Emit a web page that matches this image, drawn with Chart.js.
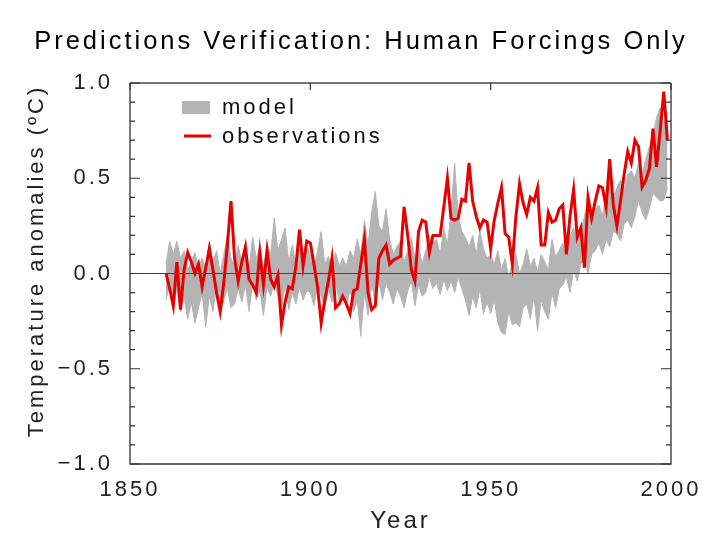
<!DOCTYPE html>
<html>
<head>
<meta charset="utf-8">
<script src="https://cdn.jsdelivr.net/npm/chart.js@4.4.1/dist/chart.umd.min.js"></script>
<style>
  html, body { margin: 0; padding: 0; background: #fff; }
  canvas { display: block; }
</style>
</head>
<body>
<canvas id="tempChart" width="720" height="540"></canvas>
<script>
// observed global temperature anomalies (degC), one value a year from 1860
const firstYear = 1860;
const observations = [
  0.00, -0.08, -0.17, 0.06, -0.19, 0.02, 0.11, 0.06, 0.00, 0.05,
  -0.07, 0.03, 0.13, 0.02, -0.10, -0.20, -0.05, 0.15, 0.38, 0.08,
  -0.04, 0.06, 0.14, -0.03, -0.06, -0.10, 0.11, -0.06, 0.12, -0.03,
  -0.07, -0.01, -0.27, -0.15, -0.07, -0.08, 0.04, 0.23, 0.04, 0.17,
  0.16, 0.05, -0.07, -0.26, -0.14, -0.04, 0.08, -0.18, -0.16, -0.12,
  -0.16, -0.21, -0.09, -0.08, 0.05, 0.18, -0.10, -0.19, -0.17, 0.08,
  0.12, 0.15, 0.05, 0.07, 0.08, 0.09, 0.35, 0.20, 0.02, -0.04,
  0.22, 0.28, 0.27, 0.11, 0.20, 0.20, 0.20, 0.35, 0.50, 0.29,
  0.28, 0.29, 0.39, 0.38, 0.58, 0.38, 0.30, 0.24, 0.28, 0.27,
  0.13, 0.28, 0.37, 0.45, 0.21, 0.19, 0.05, 0.30, 0.47, 0.37,
  0.31, 0.40, 0.38, 0.45, 0.15, 0.15, 0.32, 0.27, 0.28, 0.34,
  0.36, 0.10, 0.30, 0.44, 0.19, 0.24, 0.03, 0.40, 0.29, 0.38,
  0.46, 0.45, 0.35, 0.60, 0.36, 0.25, 0.38, 0.52, 0.64, 0.58,
  0.70, 0.665, 0.455, 0.49, 0.55, 0.76, 0.56, 0.75, 0.955, 0.70
];

// model ensemble range (human forcings only), lower and upper edge
const modelLow = [
  -0.14, -0.05, -0.18, -0.08, -0.20, -0.12, -0.24, -0.15, -0.26, -0.18,
  -0.10, -0.28, -0.12, -0.20, -0.06, -0.22, -0.14, -0.08, -0.18, -0.16,
  -0.08, -0.15, -0.06, -0.20, -0.05, -0.14, -0.09, -0.22, -0.07, -0.12,
  -0.04, -0.12, -0.19, -0.06, -0.19, -0.10, -0.16, -0.07, -0.14, -0.09,
  -0.10, -0.17, -0.06, -0.12, -0.18, -0.08, -0.15, -0.05, -0.14, -0.11,
  -0.18, -0.08, -0.20, -0.14, -0.33, -0.10, -0.22, -0.06, -0.15, -0.04,
  -0.14, -0.05, -0.10, -0.16, -0.08, -0.12, -0.18, -0.09, -0.04, -0.17,
  -0.06, -0.12, -0.10, -0.02, -0.08, -0.05, -0.11, -0.03, -0.09, -0.04,
  -0.10, -0.02, -0.08, -0.14, -0.22, -0.12, -0.18, -0.08, -0.21, -0.15,
  -0.21, -0.14, -0.26, -0.31, -0.32, -0.20, -0.27, -0.26, -0.28, -0.18,
  -0.16, -0.24, -0.12, -0.30, -0.14, -0.20, -0.24, -0.10, -0.18, -0.08,
  -0.06, -0.02, -0.10, 0.02, -0.04, 0.05, 0.07, 0.00, 0.10, 0.12,
  0.16, 0.10, 0.18, 0.14, 0.22, 0.21, 0.17, 0.26, 0.28, 0.24,
  0.30, 0.385, 0.32, 0.28, 0.34, 0.42, 0.40, 0.38, 0.385, 0.45
];
const modelHigh = [
  0.05, 0.17, 0.10, 0.17, 0.08, 0.12, 0.02, 0.06, 0.11, 0.03,
  0.08, 0.03, 0.17, 0.06, 0.12, 0.00, 0.10, 0.20, 0.08, 0.04,
  0.15, 0.05, 0.12, 0.03, 0.19, 0.08, 0.14, 0.02, 0.16, 0.10,
  0.29, 0.12, 0.18, 0.24, 0.06, 0.15, 0.04, 0.13, 0.08, 0.14,
  0.10, 0.02, 0.12, 0.22, 0.05, 0.09, 0.02, 0.11, 0.04, 0.08,
  0.04, 0.12, 0.08, 0.18, 0.10, 0.28, 0.15, 0.32, 0.43, 0.25,
  0.22, 0.34, 0.18, 0.10, 0.14, 0.17, 0.06, 0.12, 0.19, 0.08,
  0.14, 0.05, 0.12, 0.20, 0.16, 0.18, 0.10, 0.24, 0.15, 0.32,
  0.58, 0.30, 0.22, 0.19, 0.14, 0.20, 0.10, 0.23, 0.13, 0.08,
  0.10, 0.05, 0.12, 0.02, 0.08, -0.02, 0.06, 0.10, 0.00, 0.05,
  0.13, 0.04, 0.08, 0.01, 0.10, 0.06, 0.02, 0.18, 0.09, 0.12,
  0.16, 0.08, 0.20, 0.24, 0.15, 0.22, 0.30, 0.39, 0.28, 0.34,
  0.36, 0.30, 0.42, 0.50, 0.40, 0.45, 0.49, 0.44, 0.52, 0.54,
  0.50, 0.58, 0.52, 0.60, 0.665, 0.72, 0.82, 0.87, 0.78, 0.85
];

const xTicks = [1850, 1900, 1950, 2000];
const yTicks = [-1.0, -0.5, 0.0, 0.5, 1.0];

const FONT = "'Liberation Sans', Arial, Helvetica, sans-serif";
const GRAY = '#b4b4b4';
const RED = '#e60000';

const toPoints = arr => arr.map((v, i) => ({x: firstYear + i, y: v}));

// title, y title, frame, inward ticks, zero line and in-plot legend
const decorations = {
  id: 'decorations',
  beforeDraw(chart) {
    chart.ctx.letterSpacing = '3px';
  },
  beforeDatasetDraw(chart, args) {
    if (args.index !== 2) return;
    const {ctx, chartArea: a, scales: {y}} = chart;
    const y0 = y.getPixelForValue(0);
    ctx.save();
    ctx.strokeStyle = '#444';
    ctx.lineWidth = 1.2;
    ctx.beginPath();
    ctx.moveTo(a.left, y0);
    ctx.lineTo(a.right, y0);
    ctx.stroke();
    ctx.restore();
  },
  afterDraw(chart) {
    const {ctx, chartArea: a, scales: {x, y}} = chart;
    ctx.save();
    ctx.letterSpacing = '0px';
    // frame
    ctx.strokeStyle = '#777';
    ctx.lineWidth = 2;
    ctx.beginPath();
    ctx.moveTo(a.left, a.top);
    ctx.lineTo(a.right, a.top);
    ctx.stroke();
    ctx.strokeStyle = '#333';
    ctx.lineWidth = 1.3;
    ctx.beginPath();
    ctx.moveTo(a.left, a.top);
    ctx.lineTo(a.left, a.bottom);
    ctx.lineTo(a.right, a.bottom);
    ctx.lineTo(a.right, a.top);
    ctx.stroke();
    // inward ticks on left and right, every 0.1
    ctx.lineWidth = 1.2;
    ctx.beginPath();
    for (let k = -10; k <= 10; k++) {
      const py = y.getPixelForValue(k / 10);
      const len = k % 5 === 0 ? 10 : 5;
      ctx.moveTo(a.left, py);
      ctx.lineTo(a.left + len, py);
      ctx.moveTo(a.right, py);
      ctx.lineTo(a.right - len, py);
    }
    xTicks.forEach(v => {
      const px = x.getPixelForValue(v);
      ctx.moveTo(px, a.top);
      ctx.lineTo(px, a.top + 7);
    });
    ctx.stroke();
    ctx.restore();

    ctx.save();
    ctx.letterSpacing = '3px';
    // title
    ctx.fillStyle = '#000';
    ctx.font = '25.5px ' + FONT;
    ctx.textAlign = 'center';
    ctx.textBaseline = 'middle';
    ctx.fillText('Predictions Verification: Human Forcings Only', 361, 42);
    // y axis title
    ctx.save();
    ctx.translate(37, 261);
    ctx.rotate(-Math.PI / 2);
    ctx.fillStyle = '#222';
    ctx.font = '22px ' + FONT;
    ctx.fillText('Temperature anomalies (\u00baC)', 0, 0);
    ctx.restore();
    // legend
    ctx.fillStyle = GRAY;
    ctx.fillRect(182, 101, 28, 13);
    ctx.strokeStyle = RED;
    ctx.lineWidth = 3;
    ctx.beginPath();
    ctx.moveTo(184, 136);
    ctx.lineTo(211, 136);
    ctx.stroke();
    ctx.fillStyle = '#111';
    ctx.font = '22px ' + FONT;
    ctx.textAlign = 'left';
    ctx.textBaseline = 'alphabetic';
    ctx.fillText('model', 222, 114);
    ctx.fillText('observations', 222, 143);
    ctx.restore();
  }
};

const ctx = document.getElementById('tempChart').getContext('2d');
new Chart(ctx, {
  type: 'line',
  data: {
    datasets: [
      {
        label: 'model low',
        data: toPoints(modelLow),
        borderColor: GRAY,
        borderWidth: 1,
        pointRadius: 0,
        fill: false,
        order: 3
      },
      {
        label: 'model',
        data: toPoints(modelHigh),
        borderColor: GRAY,
        borderWidth: 1,
        backgroundColor: GRAY,
        pointRadius: 0,
        fill: '-1',
        order: 2
      },
      {
        label: 'observations',
        data: toPoints(observations),
        borderColor: RED,
        borderWidth: 3,
        pointRadius: 0,
        tension: 0,
        fill: false,
        order: 1
      }
    ]
  },
  options: {
    responsive: false,
    animation: false,
    devicePixelRatio: 1,
    layout: { padding: { left: 0, right: 49, top: 83, bottom: 0 } },
    plugins: {
      legend: { display: false },
      tooltip: { enabled: false },
      title: { display: false }
    },
    scales: {
      x: {
        type: 'linear',
        min: 1850,
        max: 2000,
        afterBuildTicks: s => { s.ticks = xTicks.map(v => ({value: v})); },
        afterFit: s => { s.height = 76; },
        grid: { display: false, drawTicks: false },
        border: { display: false },
        ticks: {
          color: '#222',
          padding: 13,
          maxRotation: 0,
          font: { family: FONT, size: 22 },
          callback: v => String(v)
        },
        title: {
          display: true,
          text: 'Year',
          color: '#222',
          font: { family: FONT, size: 24 },
          padding: { top: 0, bottom: 4.6 }
        }
      },
      y: {
        min: -1,
        max: 1,
        afterBuildTicks: s => { s.ticks = yTicks.map(v => ({value: v})); },
        afterFit: s => { s.width = 130; },
        grid: { display: false, drawTicks: false },
        border: { display: false },
        ticks: {
          color: '#222',
          padding: 17,
          font: { family: FONT, size: 22 },
          callback: v => v.toFixed(1).replace('-', '\u2212')
        }
      }
    }
  },
  plugins: [decorations]
});
</script>
</body>
</html>
